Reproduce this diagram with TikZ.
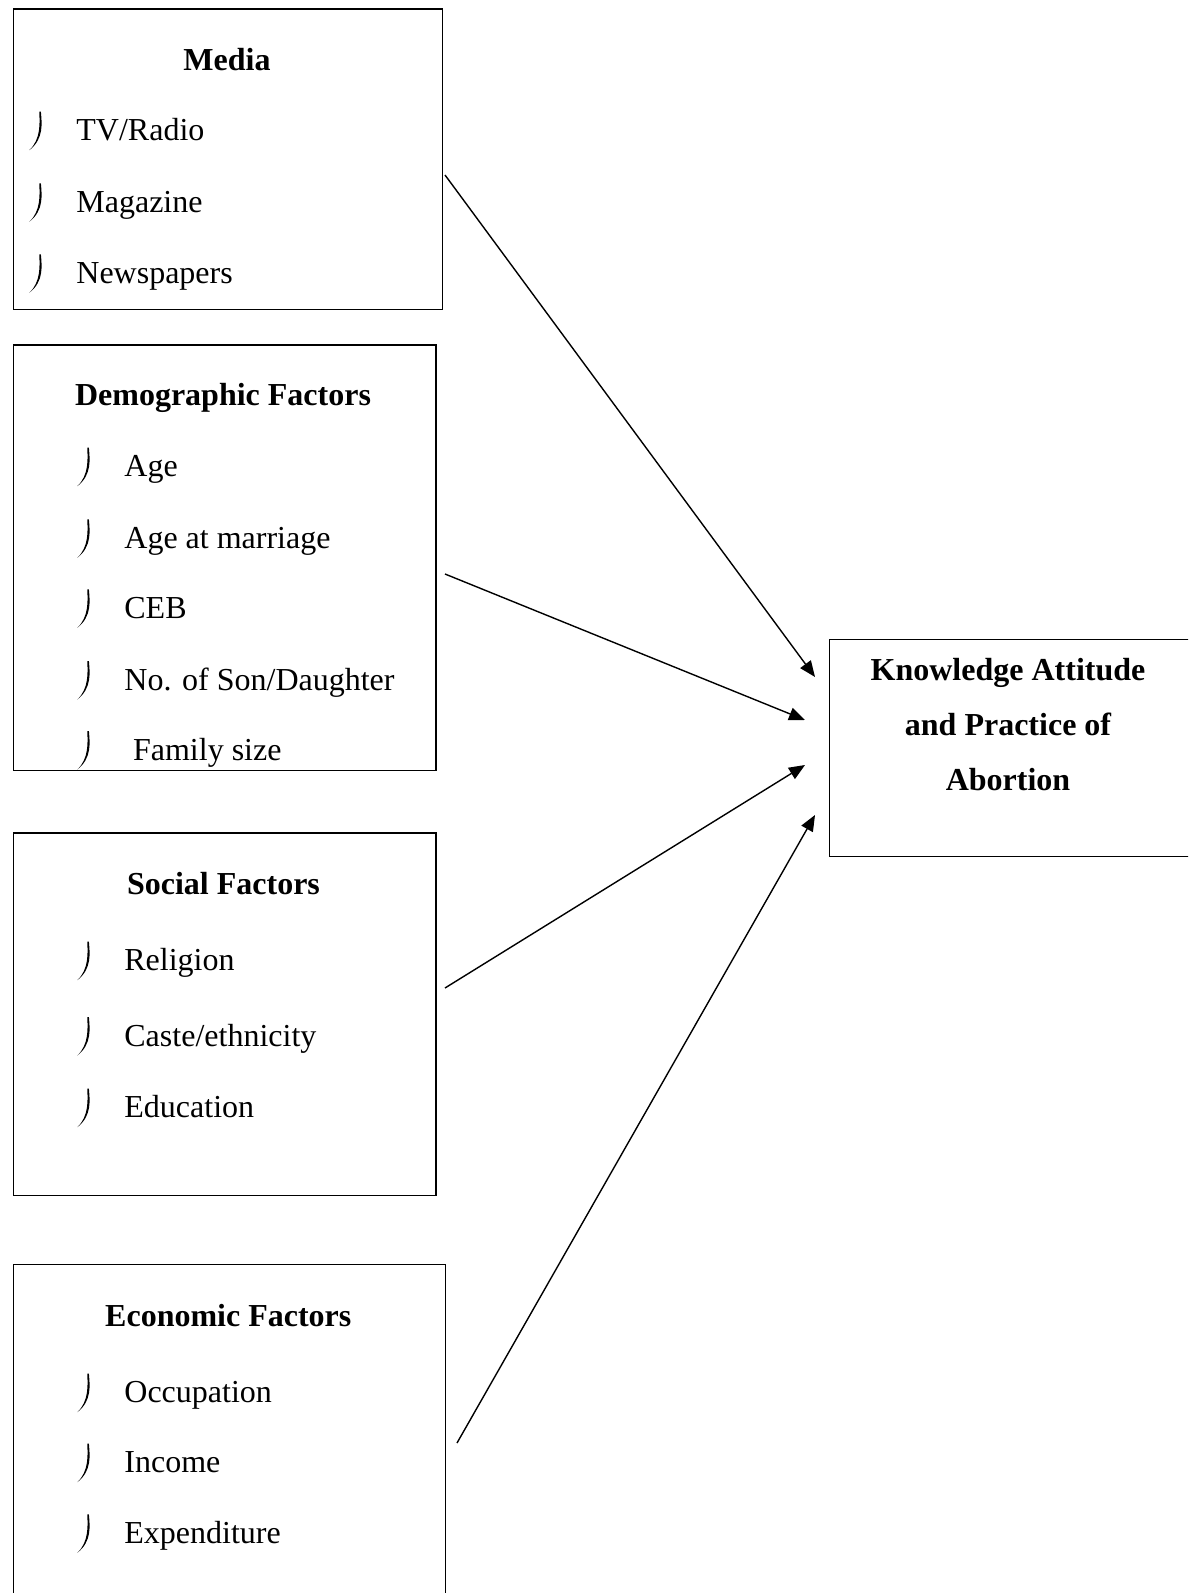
\documentclass[tikz,border=0pt]{standalone}
\usepackage{fontspec}
\setmainfont{Liberation Serif}
\usetikzlibrary{arrows.meta}

\tikzset{
  box/.style={draw, line width=0.65pt, anchor=north west, inner sep=0pt},
  head/.style={font=\fontsize{16}{19}\selectfont\bfseries, anchor=base, inner sep=0pt},
  item/.style={font=\fontsize{16}{19}\selectfont, anchor=base west, inner sep=0pt},
  arr/.style={-{Triangle[length=8pt,width=6.5pt]}, line width=0.7pt},
  jmark/.pic={\fill (11.6,-29) .. controls (12.4,-18) and (15,-2) .. (0,9.5)
      .. controls (11.8,-1.5) and (10.4,-18) .. (10,-29) -- cycle;}
}

\begin{document}
\begin{tikzpicture}[x=0.5pt,y=-0.5pt]

\clip (0,0) rectangle (1188,1593);

% boxes
\node[box, minimum width=214.5pt, minimum height=150.35pt] (media) at (12.7,8.3) {};
\node[box, minimum width=211.3pt, minimum height=212.85pt] (demo) at (12.7,344.3) {};
\node[box, minimum width=211.3pt, minimum height=181.35pt] (social) at (12.7,832.3) {};
\node[box, minimum width=216.15pt, minimum height=188pt] (econ) at (12.7,1264) {};
\node[box, minimum width=190.5pt, minimum height=108.5pt] (kap) at (829,639) {};

% headings
\node[head] (media-h) at (227,70.7) {Media};
\node[head] (demo-h) at (223,406) {Demographic Factors};
\node[head] (social-h) at (223.5,894) {Social Factors};
\node[head] (econ-h) at (228.3,1326.7) {Economic Factors};

\node[head] (kap-1) at (1008,680) {Knowledge Attitude};
\node[head] (kap-2) at (1008,735) {and Practice of};
\node[head] (kap-3) at (1008,790.7) {Abortion};

% items
\foreach \y/\t [count=\i] in {140.7/{TV/Radio},212.3/Magazine,283.3/Newspapers}{
  \pic at (29.3,\y) {jmark};
  \node[item] (media-\i) at (76,\y) {\t};
}
\foreach \y/\x/\t [count=\i] in {476.7/124/Age,548.3/124/Age at marriage,618.3/124/CEB,
    690/124/{No. of Son/Daughter},760/132.7/Family size}{
  \pic at (77.3,\y) {jmark};
  \node[item] (demo-\i) at (\x,\y) {\t};
}
\foreach \y/\t [count=\i] in {970.7/Religion,1046/{Caste/ethnicity},1117.7/Education}{
  \pic at (77.3,\y) {jmark};
  \node[item] (social-\i) at (124,\y) {\t};
}
\foreach \y/\t [count=\i] in {1402.7/Occupation,1472.7/Income,1543.3/Expenditure}{
  \pic at (77.3,\y) {jmark};
  \node[item] (econ-\i) at (124,\y) {\t};
}

% arrows
\coordinate (media-out) at (445,175);
\coordinate (demo-out) at (445,574);
\coordinate (social-out) at (445,988);
\coordinate (econ-out) at (457,1443);
\coordinate (kap-in1) at (815,677);
\coordinate (kap-in2) at (805,720);
\coordinate (kap-in3) at (805,765);
\coordinate (kap-in4) at (815,815);

\draw[arr] (media-out) -- (kap-in1);
\draw[arr] (demo-out) -- (kap-in2);
\draw[arr] (social-out) -- (kap-in3);
\draw[arr] (econ-out) -- (kap-in4);

\end{tikzpicture}
\end{document}
